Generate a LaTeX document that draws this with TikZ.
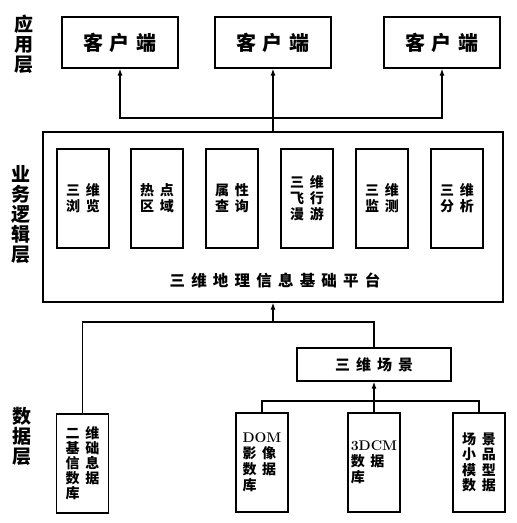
\documentclass[tikz,border=0pt]{standalone}
\usepackage{fontspec}
\usetikzlibrary{arrows.meta}
\newfontfamily\cjk{Noto Sans CJK SC}
\newfontfamily\cjkwide[LetterSpace=40]{Noto Sans CJK SC}
\newfontfamily\cjkmid[LetterSpace=33]{Noto Sans CJK SC}

\tikzset{
  box/.style={draw, line width=1.2pt, inner sep=0pt},
  client/.style={box, minimum width=116pt, minimum height=51pt, font=\cjkmid\bfseries\fontsize{20}{24}\selectfont},
  func/.style={box, minimum width=52pt, minimum height=99pt, align=left, font=\cjkwide\bfseries\fontsize{14}{16}\selectfont},
  layer/.style={align=center, font=\cjk\bfseries\fontsize{19}{20}\selectfont},
  link/.style={line width=1.2pt},
  arr/.style={link, -{Latex[length=7pt,width=5pt]}},
}

\begin{document}
\begin{tikzpicture}[x=1pt, y=-1pt]
    \useasboundingbox (0,0) rectangle (517,523);

    % 应用层
    \node[layer] (lapp) at (24,44) {应\\用\\层};
    \node[client] (c1) at (120,42.5) {客户端};
    \node[client] (c2) at (273,42.5) {客户端};
    \node[client] (c3) at (442,42.5) {客户端};

    % 业务逻辑层
    \node[layer] (lbiz) at (21,215) {业\\务\\逻\\辑\\层};
    \node[box, minimum width=460pt, minimum height=170pt] (plat) at (273,217) {};
    \node[func] (f1) at (83,198.5) {三维\\浏览};
    \node[func] (f2) at (157,198.5) {热点\\区域};
    \node[func] (f3) at (232,198.5) {属性\\查询};
    \node[func] (f4) at (307,198.5) {三维\\飞行\\漫游};
    \node[func] (f5) at (382,198.5) {三维\\监测};
    \node[func] (f6) at (457,198.5) {三维\\分析};
    \node[font=\cjkwide\bfseries\fontsize{15.5}{18}\selectfont] (platlbl) at (275,280) {三维地理信息基础平台};

    % 数据层
    \node[layer] (ldata) at (22,436) {数\\据\\层};
    \node[func, font=\cjkwide\bfseries\fontsize{14}{15}\selectfont] (jc) at (82.5,463.5) {二维\\基础\\信息\\数据\\库};
    \node[box, minimum width=154pt, minimum height=33pt, font=\cjkwide\bfseries\fontsize{15}{18}\selectfont] (scene) at (374,364.5) {三维场景};
    \node[func] (dom) at (262,462.5) {{\rmfamily\bfseries DOM}\\影像\\数据\\库};
    \node[func] (dcm) at (374,462.5) {{\rmfamily\bfseries 3DCM}\\数据\\库};
    \node[func, font=\cjkwide\bfseries\fontsize{14}{15.5}\selectfont] (xp) at (479,462.5) {场景\\小品\\模型\\数据};

    % 连线
    \coordinate (upbus) at (273,118);
    \draw[link] (plat.north) -- (upbus);
    \draw[arr] (upbus) -| (c1.south);
    \draw[arr] (upbus) -- (c2.south);
    \draw[arr] (upbus) -| (c3.south);

    \coordinate (dnbus) at (273,322);
    \draw[arr] (dnbus) -- (plat.south);
    \draw[link] (jc.north) |- (dnbus);
    \draw[link] (scene.north) |- (dnbus);

    \coordinate (sbus) at (374,401);
    \draw[arr] (sbus) -- (scene.south);
    \draw[link] (dom.north) |- (sbus);
    \draw[link] (xp.north) |- (sbus);
    \draw[link] (dcm.north) -- (sbus);
\end{tikzpicture}
\end{document}
